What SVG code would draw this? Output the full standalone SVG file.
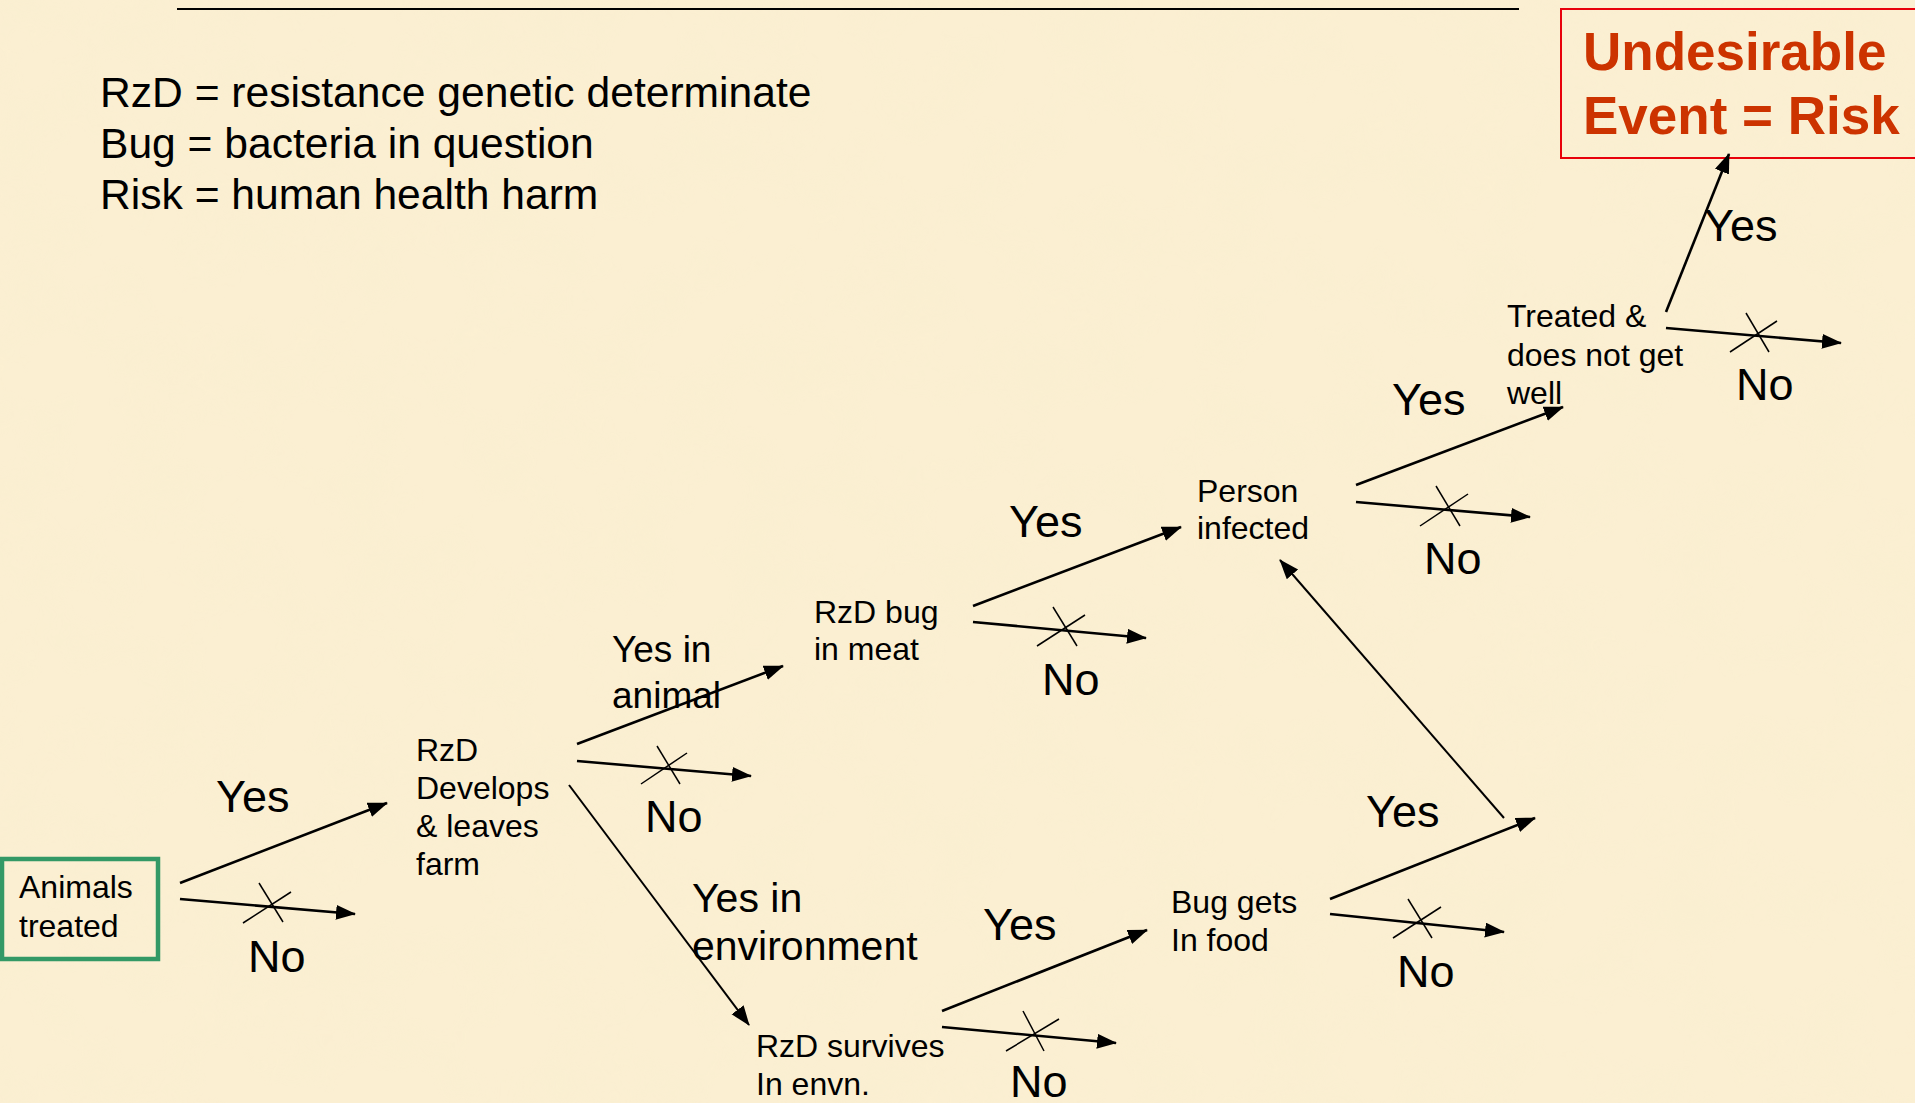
<svg xmlns="http://www.w3.org/2000/svg" width="1915" height="1103" viewBox="0 0 1915 1103">
<defs>
<style>
.t{font-family:"Liberation Sans",Arial,sans-serif;fill:#000}
.n{font-size:32px}
.yn{font-size:45px}
.lg{font-size:42.6px}
.risk{font-family:"Liberation Sans",Arial,sans-serif;font-weight:bold;font-size:53px;fill:#CC3300}
.a{stroke:#000;stroke-width:2.6;fill:none;marker-end:url(#ah)}
.thin{stroke:#000;stroke-width:2;fill:none;marker-end:url(#ah)}
.x{stroke:#000;stroke-width:1.5;fill:none}
</style>
<marker id="ah" markerUnits="userSpaceOnUse" markerWidth="22" markerHeight="16" refX="19" refY="7.5" orient="auto">
<path d="M0,0 L20,7.5 L0,15 Z" fill="#000"/>
</marker>
<filter id="tex" x="0" y="0" width="100%" height="100%">
<feTurbulence type="fractalNoise" baseFrequency="0.015" numOctaves="3" seed="7"/>
<feColorMatrix type="matrix" values="0 0 0 0 0.93  0 0 0 0 0.86  0 0 0 0 0.62  1.2 0 0 0 -0.5"/>
</filter>
</defs>
<rect width="1915" height="1103" fill="#FBEFD2"/>
<rect width="1915" height="1103" filter="url(#tex)" opacity="0.45"/>

<g id="title-rule"><line x1="177" y1="9" x2="1519" y2="9" stroke="#000" stroke-width="2"/></g>

<g id="legend">
<text class="t lg" x="100" y="107">RzD = resistance genetic determinate</text>
<text class="t lg" x="100" y="158">Bug = bacteria in question</text>
<text class="t lg" x="100" y="209">Risk = human health harm</text>
</g>

<g id="node-risk">
<rect x="1561" y="9" width="362" height="149" fill="none" stroke="#E8000B" stroke-width="2"/>
<text class="risk" x="1583" y="70">Undesirable</text>
<text class="risk" x="1583" y="134">Event = Risk</text>
</g>

<g id="node-animals">
<rect x="2" y="859" width="156" height="100" fill="none" stroke="#339966" stroke-width="4.5"/>
<text class="t n" x="19" y="898">Animals</text>
<text class="t n" x="19" y="937">treated</text>
</g>

<g id="node-develops">
<text class="t n" x="416" y="761">RzD</text>
<text class="t n" x="416" y="799">Develops</text>
<text class="t n" x="416" y="837">&amp; leaves</text>
<text class="t n" x="416" y="875">farm</text>
</g>

<g id="node-meat">
<text class="t n" x="814" y="623">RzD bug</text>
<text class="t n" x="814" y="660">in meat</text>
</g>

<g id="node-survives">
<text class="t n" x="756" y="1057">RzD survives</text>
<text class="t n" x="756" y="1095">In envn.</text>
</g>

<g id="node-food">
<text class="t n" x="1171" y="913">Bug gets</text>
<text class="t n" x="1171" y="951">In food</text>
</g>

<g id="node-person">
<text class="t n" x="1197" y="502">Person</text>
<text class="t n" x="1197" y="539">infected</text>
</g>

<g id="node-treated">
<text class="t n" x="1507" y="327">Treated &amp;</text>
<text class="t n" x="1507" y="366">does not get</text>
<text class="t n" x="1507" y="404">well</text>
</g>

<g id="connectors">
<line class="a" x1="180" y1="883" x2="387" y2="803"/>
<line class="a" x1="180" y1="899" x2="355" y2="914"/>
<line class="x" x1="243" y1="923" x2="291" y2="892"/><line class="x" x1="259" y1="883" x2="283" y2="922"/>

<line class="a" x1="577" y1="744" x2="783" y2="666"/>
<line class="a" x1="577" y1="761" x2="751" y2="776"/>
<line class="x" x1="641" y1="784" x2="687" y2="753"/><line class="x" x1="657" y1="746" x2="680" y2="784"/>
<line class="thin" x1="569" y1="785" x2="749" y2="1025"/>

<line class="a" x1="973" y1="606" x2="1181" y2="527"/>
<line class="a" x1="973" y1="622" x2="1146" y2="638"/>
<line class="x" x1="1037" y1="646" x2="1085" y2="615"/><line class="x" x1="1053" y1="607" x2="1077" y2="646"/>

<line class="a" x1="942" y1="1011" x2="1147" y2="930"/>
<line class="a" x1="942" y1="1027" x2="1116" y2="1043"/>
<line class="x" x1="1006" y1="1051" x2="1059" y2="1019"/><line class="x" x1="1023" y1="1011" x2="1044" y2="1051"/>

<line class="a" x1="1330" y1="899" x2="1535" y2="818"/>
<line class="a" x1="1330" y1="914" x2="1504" y2="932"/>
<line class="x" x1="1393" y1="938" x2="1441" y2="907"/><line class="x" x1="1408" y1="899" x2="1432" y2="938"/>
<line class="thin" x1="1504" y1="818" x2="1280" y2="560"/>

<line class="a" x1="1356" y1="485" x2="1563" y2="407"/>
<line class="a" x1="1356" y1="502" x2="1530" y2="517"/>
<line class="x" x1="1420" y1="526" x2="1468" y2="494"/><line class="x" x1="1436" y1="486" x2="1460" y2="526"/>

<line class="a" x1="1666" y1="312" x2="1729" y2="154"/>
<line class="a" x1="1666" y1="328" x2="1841" y2="343"/>
<line class="x" x1="1730" y1="352" x2="1777" y2="321"/><line class="x" x1="1746" y1="313" x2="1769" y2="352"/>

<g id="connector-labels">
<text class="t yn" x="216" y="812">Yes</text>
<text class="t yn" x="248" y="972">No</text>
<text class="t" style="font-size:37px" x="612" y="662">Yes in</text>
<text class="t" style="font-size:37px" x="612" y="708">animal</text>
<text class="t yn" x="645" y="832">No</text>
<text class="t" style="font-size:41px" x="692" y="912">Yes in</text>
<text class="t" style="font-size:41px" x="692" y="960">environment</text>
<text class="t yn" x="1009" y="537">Yes</text>
<text class="t yn" x="1042" y="695">No</text>
<text class="t yn" x="983" y="940">Yes</text>
<text class="t yn" x="1010" y="1097">No</text>
<text class="t yn" x="1366" y="827">Yes</text>
<text class="t yn" x="1397" y="987">No</text>
<text class="t yn" x="1392" y="415">Yes</text>
<text class="t yn" x="1424" y="574">No</text>
<text class="t yn" x="1704" y="241">Yes</text>
<text class="t yn" x="1736" y="400">No</text>
</g>
</g>
</svg>
